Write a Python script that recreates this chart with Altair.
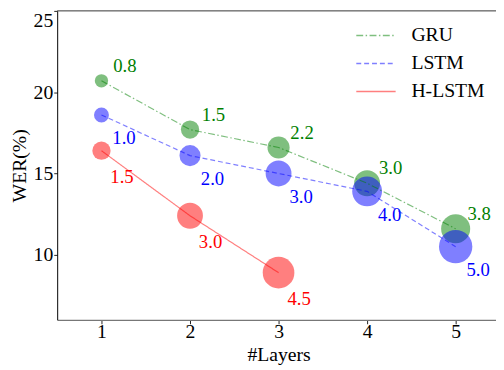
import altair as alt
import pandas as pd

# ---- data ----
series = ["GRU", "LSTM", "H-LSTM"]
gru_layers = [1, 2, 3, 4, 5]
gru_wer = [20.7, 17.7, 16.6, 14.4, 11.6]
gru_params = [0.8, 1.5, 2.2, 3.0, 3.8]
lstm_layers = [1, 2, 3, 4, 5]
lstm_wer = [18.6, 16.1, 15.0, 13.9, 10.5]
lstm_params = [1.0, 2.0, 3.0, 4.0, 5.0]
hlstm_layers = [1, 2, 3]
hlstm_wer = [16.4, 12.4, 8.9]
hlstm_params = [1.5, 3.0, 4.5]
x_ticks = [1, 2, 3, 4, 5]
y_ticks = [10, 15, 20, 25]

line_colors = ["#008000", "#0000ff", "#ff0000"]
dashes = [[7, 2.5, 1.5, 2.5], [5, 3], [1, 0]]

rows = []
for name, xs, ys, ps in [
    ("GRU", gru_layers, gru_wer, gru_params),
    ("LSTM", lstm_layers, lstm_wer, lstm_params),
    ("H-LSTM", hlstm_layers, hlstm_wer, hlstm_params),
]:
    for x, y, p in zip(xs, ys, ps):
        rows.append({"series": name, "layers": x, "wer": y, "params": p, "label": f"{p:.1f}"})
df = pd.DataFrame(rows)
legend_df = pd.DataFrame({"series": series})
one_row = pd.DataFrame({"k": [0]})

FONT = "Liberation Serif"
W, H = 446, 314
PX_PER_UNIT = 90

x_scale = alt.Scale(domain=[0.5, 0.5 + W / PX_PER_UNIT], nice=False, zero=False)
y_scale = alt.Scale(domain=[6, 25], nice=False, zero=False)
color_scale = alt.Scale(domain=series, range=line_colors)
dash_scale = alt.Scale(domain=series, range=dashes)

x_enc = alt.X(
    "layers:Q",
    scale=x_scale,
    axis=alt.Axis(
        values=x_ticks, format="d", title="#Layers", grid=False,
        domainColor="#777777", domainWidth=1.3, tickColor="#222222",
        tickSize=4, labelPadding=-2, titleX=225, titleAlign="center",
        titlePadding=3, labelAngle=0,
    ),
)
y_enc = alt.Y(
    "wer:Q",
    scale=y_scale,
    axis=alt.Axis(
        values=y_ticks, title="WER(%)", grid=False, labelFlush=True,
        domainColor="#000000", domainWidth=1, tickColor="#222222",
        tickSize=3.5, labelPadding=1, titlePadding=4,
    ),
)

base = alt.Chart(df)

bubbles = base.mark_circle(opacity=0.5).encode(
    x=x_enc,
    y=y_enc,
    color=alt.Color("series:N", scale=color_scale, legend=None),
    size=alt.Size("params:Q", scale=alt.Scale(domain=[0, 5], range=[0, 1150]), legend=None),
)

lines = base.mark_line(strokeWidth=1.2, opacity=0.5).encode(
    x="layers:Q",
    y="wer:Q",
    color=alt.Color("series:N", scale=color_scale, legend=None),
    strokeDash=alt.StrokeDash("series:N", scale=dash_scale, legend=None),
    detail="series:N",
)

label_offsets = {"GRU": (12, -15), "LSTM": (11, 24), "H-LSTM": (9, 27)}
label_layers = []
for name, col in zip(series, line_colors):
    dx, dy = label_offsets[name]
    label_layers.append(
        base.transform_filter(alt.datum.series == name)
        .mark_text(align="left", baseline="middle", dx=dx, dy=dy,
                   font=FONT, fontSize=19, color=col)
        .encode(x="layers:Q", y="wer:Q", text="label:N")
    )

# top spine (single row so it is drawn once)
top_spine = alt.Chart(one_row).mark_rule(color="#333333", strokeWidth=1).encode(
    x=alt.value(0), x2=alt.value(W), y=alt.value(0)
)

# manual legend (upper right), one row per series
legend_layers = []
for i, (name, col, dash) in enumerate(zip(series, line_colors, dashes)):
    ypos = 25 + i * 28.5
    leg = alt.Chart(legend_df).transform_filter(alt.datum.series == name)
    legend_layers.append(
        leg.mark_rule(color=col, strokeWidth=1.6, opacity=0.5, strokeDash=dash).encode(
            x=alt.value(304), x2=alt.value(344), y=alt.value(ypos)
        )
    )
    legend_layers.append(
        leg.mark_text(align="left", baseline="middle", font=FONT,
                      fontSize=20, color="#000000").encode(
            x=alt.value(360), y=alt.value(ypos), text="series:N"
        )
    )

chart = alt.layer(
    bubbles,
    lines,
    *label_layers,
    top_spine,
    *legend_layers,
).properties(
    width=W,
    height=H,
    autosize=alt.AutoSizeParams(type="none"),
    padding={"left": 50, "top": 0, "right": 0, "bottom": 44},
).configure_view(
    stroke=None
).configure_axis(
    labelFont=FONT, titleFont=FONT, labelFontSize=20, titleFontSize=20,
    labelColor="#000000", titleColor="#000000", titleFontWeight="normal",
)

chart.save("out.html", embed_options={"renderer": "svg", "actions": False})
